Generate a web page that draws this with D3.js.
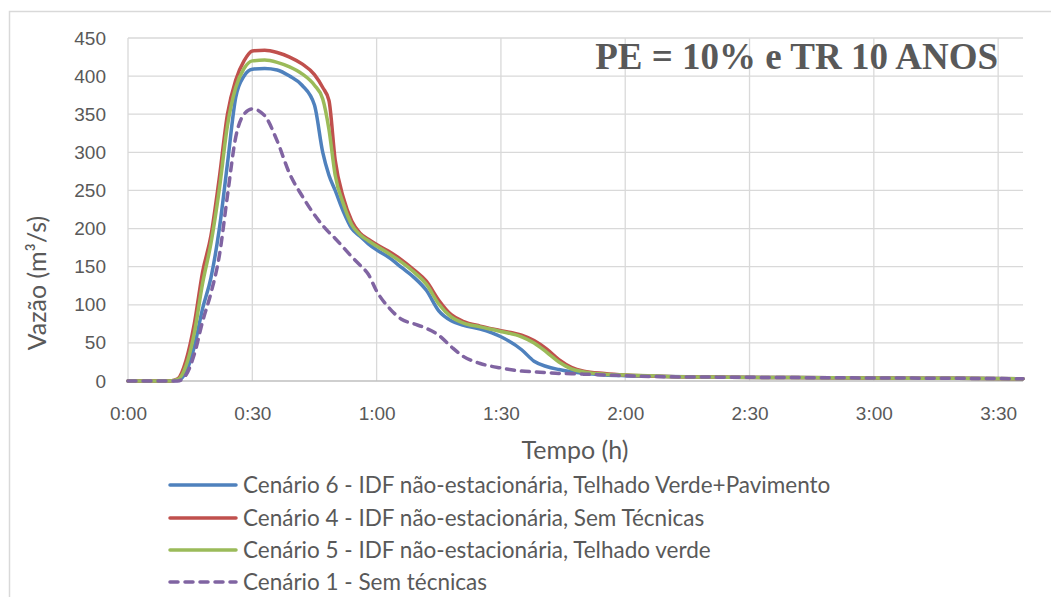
<!DOCTYPE html>
<html>
<head>
<meta charset="utf-8">
<script src="https://cdn.jsdelivr.net/npm/d3@7"></script>
<style>
  body { margin: 0; background: #fff; }
  svg { display: block; font-family: Lato, "Liberation Sans", sans-serif; }
</style>
</head>
<body>
<svg id="chart" width="1051" height="597"></svg>
<script>
// Tempo em minutos
const tempoMin = [0, 5, 10, 12, 14, 16, 18, 20, 22, 24, 26, 28, 30, 33, 36, 39, 42, 45, 47, 48.5, 50, 52, 54, 56, 58, 60, 63, 66, 69, 72, 75, 78, 81, 85, 90, 95, 98, 101, 104, 107, 110, 115, 120, 130, 145, 160, 180, 200, 216];

const cenario6 = [0, 0, 0, 1, 12, 45, 95, 135, 198, 285, 372, 400, 409, 410, 408, 400, 388, 362, 300, 270, 250, 222, 200, 190, 180, 172, 162, 149, 136, 119, 92, 79, 73, 68, 58, 41, 26, 19, 15, 12, 10, 8, 7, 6, 5, 4.5, 4, 3.5, 3];
const cenario4 = [0, 0, 0, 3, 27, 75, 143, 190, 265, 350, 395, 420, 433, 434, 431, 425, 416, 402, 385, 368, 290, 240, 210, 194, 186, 179, 170, 159, 146, 131, 106, 87, 78, 72, 66, 60, 53, 42, 28, 18, 13, 10, 8, 6, 5, 4.5, 4, 3.5, 3];
const cenario5 = [0, 0, 0, 2, 20, 63, 128, 180, 250, 335, 385, 410, 420, 421, 418, 412, 403, 388, 370, 330, 270, 232, 205, 192, 184, 177, 167, 156, 143, 127, 101, 84, 76, 71, 65, 58, 50, 38, 25, 16, 12, 9, 8, 6, 5, 4.5, 4, 3.5, 3];
const cenario1 = [0, 0, 0, 0, 8, 35, 78, 115, 163, 243, 320, 350, 357, 348, 315, 272, 243, 218, 204, 195, 187, 175, 163, 152, 140, 118, 96, 81, 75, 69, 60, 45, 32, 23, 17, 13, 12, 11, 10, 9.5, 9, 8, 7, 5.5, 5, 4.5, 4, 3.5, 3];

const seriesNames = [
  'Cenário 6 - IDF não-estacionária, Telhado Verde+Pavimento',
  'Cenário 4 - IDF não-estacionária, Sem Técnicas',
  'Cenário 5 - IDF não-estacionária, Telhado verde',
  'Cenário 1 - Sem técnicas'
];
const seriesColors = ['#4f81bd', '#c0504d', '#9bbb59', '#8064a2'];
const seriesValues = [cenario6, cenario4, cenario5, cenario1];

const yTicks = [0, 50, 100, 150, 200, 250, 300, 350, 400, 450];
const xTicks = [0, 30, 60, 90, 120, 150, 180, 210];

const svg = d3.select('#chart');
const grid = '#d9d9d9';
const textColor = '#595959';

// Chart outer border (only top and left visible)
svg.append('rect')
  .attr('x', 9.5).attr('y', 11.5)
  .attr('width', 1100).attr('height', 700)
  .attr('fill', 'none')
  .attr('stroke', grid)
  .attr('stroke-width', 1.5);

const x = d3.scaleLinear().domain([0, 216]).range([128, 1023]);
const y = d3.scaleLinear().domain([0, 450]).range([381, 38]);

// Gridlines
svg.append('g')
  .selectAll('line.h')
  .data(yTicks.slice(1))
  .join('line')
  .attr('x1', 128).attr('x2', 1023)
  .attr('y1', d => y(d)).attr('y2', d => y(d))
  .attr('stroke', grid).attr('stroke-width', 1.3);

svg.append('g')
  .selectAll('line.v')
  .data(xTicks)
  .join('line')
  .attr('x1', d => x(d)).attr('x2', d => x(d))
  .attr('y1', 38).attr('y2', 381)
  .attr('stroke', grid).attr('stroke-width', 1.3);

// X axis line
svg.append('line')
  .attr('x1', 128).attr('x2', 1023)
  .attr('y1', 381).attr('y2', 381)
  .attr('stroke', '#bfbfbf').attr('stroke-width', 1.3);

// Tick labels
const fmt = m => `${Math.floor(m / 60)}:${String(m % 60).padStart(2, '0')}`;

const yAxis = d3.axisLeft(y).tickValues(yTicks).tickSize(0).tickPadding(22);
svg.append('g')
  .attr('transform', 'translate(128,0)')
  .call(yAxis)
  .call(g => g.select('.domain').remove())
  .call(g => g.selectAll('text').attr('fill', textColor).style('font-size', '19px').attr('font-family', null));

const xAxis = d3.axisBottom(x).tickValues(xTicks).tickFormat(fmt).tickSize(0).tickPadding(26);
svg.append('g')
  .attr('transform', 'translate(0,381)')
  .call(xAxis)
  .call(g => g.select('.domain').remove())
  .call(g => g.selectAll('text').attr('fill', textColor).style('font-size', '19px').attr('font-family', null));

// Axis titles
svg.append('text')
  .attr('x', 575).attr('y', 459)
  .attr('text-anchor', 'middle')
  .attr('fill', textColor)
  .style('font-size', '25px')
  .text('Tempo (h)');

svg.append('text')
  .attr('transform', 'translate(46,283) rotate(-90)')
  .attr('text-anchor', 'middle')
  .attr('fill', textColor)
  .style('font-size', '25px')
  .text('Vazão (m³/s)');

// Series lines
const line = d3.line()
  .x((d, i) => x(tempoMin[i]))
  .y(d => y(d))
  .curve(d3.curveMonotoneX);

seriesValues.forEach((vals, i) => {
  svg.append('path')
    .datum(vals)
    .attr('d', line)
    .attr('fill', 'none')
    .attr('stroke', seriesColors[i])
    .attr('stroke-width', 3.5)
    .attr('stroke-linecap', 'round')
    .attr('stroke-linejoin', 'round')
    .attr('stroke-dasharray', i === 3 ? '8,7' : null);
});

// Title inside plot
svg.append('text')
  .attr('x', 998).attr('y', 69)
  .attr('text-anchor', 'end')
  .attr('fill', textColor)
  .attr('font-family', '"Liberation Serif", "Times New Roman", serif')
  .attr('font-weight', 'bold')
  .style('font-size', '37px')
  .text('PE = 10% e TR 10 ANOS');

// Legend
const legendY = [485, 518, 550, 582];
const legend = svg.append('g');
seriesNames.forEach((name, i) => {
  legend.append('line')
    .attr('x1', 170).attr('x2', 236)
    .attr('y1', legendY[i]).attr('y2', legendY[i])
    .attr('stroke', seriesColors[i])
    .attr('stroke-width', 3.5)
    .attr('stroke-linecap', 'round')
    .attr('stroke-dasharray', i === 3 ? '8,7' : null);
  legend.append('text')
    .attr('x', 243).attr('y', legendY[i] + 8)
    .attr('fill', textColor)
    .style('font-size', '22.5px')
    .text(name);
});
</script>
</body>
</html>
